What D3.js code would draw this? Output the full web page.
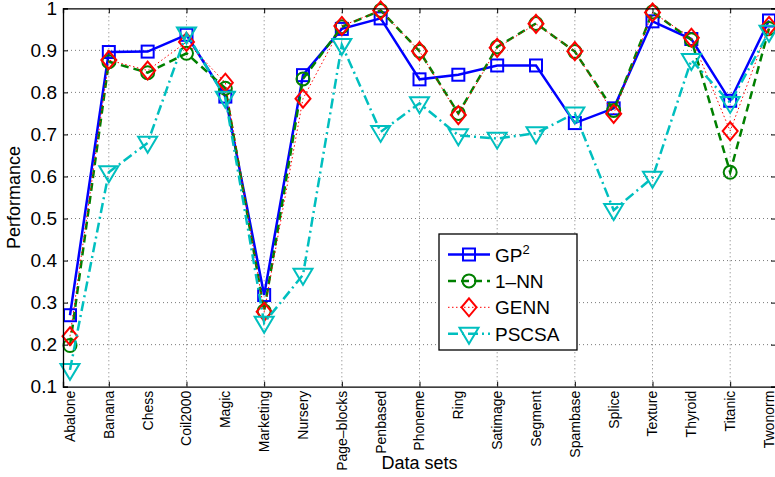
<!DOCTYPE html>
<html>
<head>
<meta charset="utf-8">
<script src="https://cdn.jsdelivr.net/npm/d3@7"></script>
<style>
  body { margin: 0; background: #fff; }
  svg { font-family: "Liberation Sans", Arial, sans-serif; }
  .grid line { stroke: #7a7a7a; stroke-width: 1; stroke-dasharray: 1,3; }
</style>
</head>
<body>
<div id="chart"></div>
<script>
// data sets on the x axis
var datasets = ["Abalone", "Banana", "Chess", "Coil2000", "Magic", "Marketing", "Nursery",
  "Page\u2013blocks", "Penbased", "Phoneme", "Ring", "Satimage", "Segment", "Spambase",
  "Splice", "Texture", "Thyroid", "Titanic", "Twonorm"];

// performance of each method
var gp2   = [0.270, 0.896, 0.897, 0.937, 0.790, 0.318, 0.841, 0.951, 0.976, 0.831, 0.842, 0.864, 0.864, 0.727, 0.762, 0.969, 0.927, 0.780, 0.971];
var nn1   = [0.198, 0.873, 0.847, 0.893, 0.810, 0.280, 0.832, 0.956, 0.995, 0.898, 0.750, 0.908, 0.964, 0.897, 0.757, 0.991, 0.925, 0.610, 0.952];
var genn  = [0.220, 0.877, 0.852, 0.920, 0.823, 0.278, 0.785, 0.958, 0.995, 0.898, 0.746, 0.906, 0.963, 0.898, 0.749, 0.990, 0.930, 0.708, 0.958];
var pscsa = [0.140, 0.610, 0.680, 0.940, 0.787, 0.252, 0.366, 0.913, 0.706, 0.774, 0.698, 0.690, 0.703, 0.750, 0.520, 0.597, 0.877, 0.775, 0.944];

var yTicks = [0.1, 0.2, 0.3, 0.4, 0.5, 0.6, 0.7, 0.8, 0.9, 1];
// vertical grid / x tick marks only on every other data set
var xTickSets = datasets.filter(function(d, i){ return i % 2 === 1; });

var series = [
  {name: "GP", sup: "2", values: gp2,  color: "#0000ff", width: 2.5, dash: null,       marker: "square"},
  {name: "1\u2013NN", values: nn1,    color: "#008000", width: 2.5, dash: "8,5",      marker: "circle"},
  {name: "GENN", values: genn,         color: "#ff0000", width: 1,   dash: "1.5,2.5",  marker: "diamond"},
  {name: "PSCSA", values: pscsa,       color: "#00bfbf", width: 2.5, dash: "10,4,2,4", marker: "triangle"}
];

const w = 775, h = 477;
const mLeft = 63, mRight = 776, mTop = 8.3, mBottom = 386.7;

const svg = d3.select("#chart").append("svg")
  .attr("width", w).attr("height", h);

const x = d3.scalePoint().domain(datasets).range([mLeft, mRight]).padding(0.18);
const y = d3.scaleLinear().domain([0.1, 1]).range([mBottom, mTop]);

// grid
const grid = svg.append("g").attr("class", "grid");
grid.selectAll("line.h").data(yTicks.slice(1, -1)).enter().append("line")
  .attr("class", "h")
  .attr("x1", mLeft).attr("x2", mRight)
  .attr("y1", d => y(d)).attr("y2", d => y(d));
grid.selectAll("line.v").data(xTickSets).enter().append("line")
  .attr("class", "v")
  .attr("x1", d => x(d)).attr("x2", d => x(d))
  .attr("y1", mTop).attr("y2", mBottom);

// markers
function drawMarker(g, type, color) {
  var m;
  if (type === "square") {
    m = g.append("rect").attr("x", -6).attr("y", -6).attr("width", 12).attr("height", 12);
  } else if (type === "circle") {
    m = g.append("circle").attr("r", 6.5);
  } else if (type === "diamond") {
    m = g.append("path").attr("d", "M0,-9L7.5,0L0,9L-7.5,0Z");
  } else {
    m = g.append("path").attr("d", "M-9.5,-6L9.5,-6L0,10Z");
  }
  m.attr("fill", "none").attr("stroke", color).attr("stroke-width", 2);
}

const line = d3.line().x((d, i) => x(datasets[i])).y(d => y(d));

series.forEach(function(s) {
  var g = svg.append("g");
  g.append("path").datum(s.values)
    .attr("d", line)
    .attr("fill", "none")
    .attr("stroke", s.color)
    .attr("stroke-width", s.width)
    .attr("stroke-dasharray", s.dash);
  g.selectAll("g.m").data(s.values).enter().append("g")
    .attr("class", "m")
    .attr("transform", (d, i) => "translate(" + x(datasets[i]) + "," + y(d) + ")")
    .each(function() { drawMarker(d3.select(this), s.marker, s.color); });
});

// axes (ticks point inward, box on)
const yAxis = d3.axisLeft(y).tickValues(yTicks).tickSize(-5).tickPadding(6)
  .tickFormat(d => d === 1 ? "1" : d.toFixed(1));
const yAx = svg.append("g").attr("transform", "translate(" + mLeft + ",0)").call(yAxis);
yAx.selectAll("text").attr("font-size", 19).attr("fill", "#000").attr("font-family", "Liberation Sans, Arial, sans-serif");

svg.append("g").attr("transform", "translate(" + mRight + ",0)")
  .call(d3.axisRight(y).tickValues(yTicks).tickSize(-5).tickFormat(""));

svg.append("g").attr("transform", "translate(0," + mBottom + ")")
  .call(d3.axisBottom(x).tickValues(xTickSets).tickSize(-5).tickFormat(""));
svg.append("g").attr("transform", "translate(0," + mTop + ")")
  .call(d3.axisTop(x).tickValues(xTickSets).tickSize(-5).tickFormat(""));

svg.selectAll(".domain").attr("stroke", "#000").attr("stroke-width", 1.3);
svg.selectAll(".tick line").attr("stroke", "#000");

// rotated data set labels
svg.append("g").selectAll("text").data(datasets).enter().append("text")
  .attr("transform", d => "translate(" + x(d) + "," + (mBottom + 4) + ") rotate(-90)")
  .attr("text-anchor", "end")
  .attr("dy", "0.35em")
  .attr("font-size", 14)
  .text(d => d);

// axis titles
svg.append("text")
  .attr("x", (mLeft + mRight) / 2).attr("y", 469)
  .attr("text-anchor", "middle").attr("font-size", 18)
  .text("Data sets");
svg.append("text")
  .attr("transform", "translate(20," + ((mTop + mBottom) / 2) + ") rotate(-90)")
  .attr("text-anchor", "middle").attr("font-size", 18)
  .text("Performance");

// legend
const lg = svg.append("g").attr("transform", "translate(439,234)");
lg.append("rect").attr("width", 138).attr("height", 116)
  .attr("fill", "#fff").attr("stroke", "#000").attr("stroke-width", 1.3);
series.forEach(function(s, i) {
  var row = lg.append("g").attr("transform", "translate(0," + (20.5 + i * 26.4) + ")");
  row.append("line").attr("x1", 9).attr("x2", 51)
    .attr("stroke", s.color).attr("stroke-width", s.width).attr("stroke-dasharray", s.dash);
  drawMarker(row.append("g").attr("transform", "translate(30,0)"), s.marker, s.color);
  var t = row.append("text").attr("x", 56).attr("y", 7).attr("font-size", 19).text(s.name);
  if (s.sup) {
    t.append("tspan").attr("font-size", 13).attr("dy", -8).text(s.sup);
  }
});
</script>
</body>
</html>
